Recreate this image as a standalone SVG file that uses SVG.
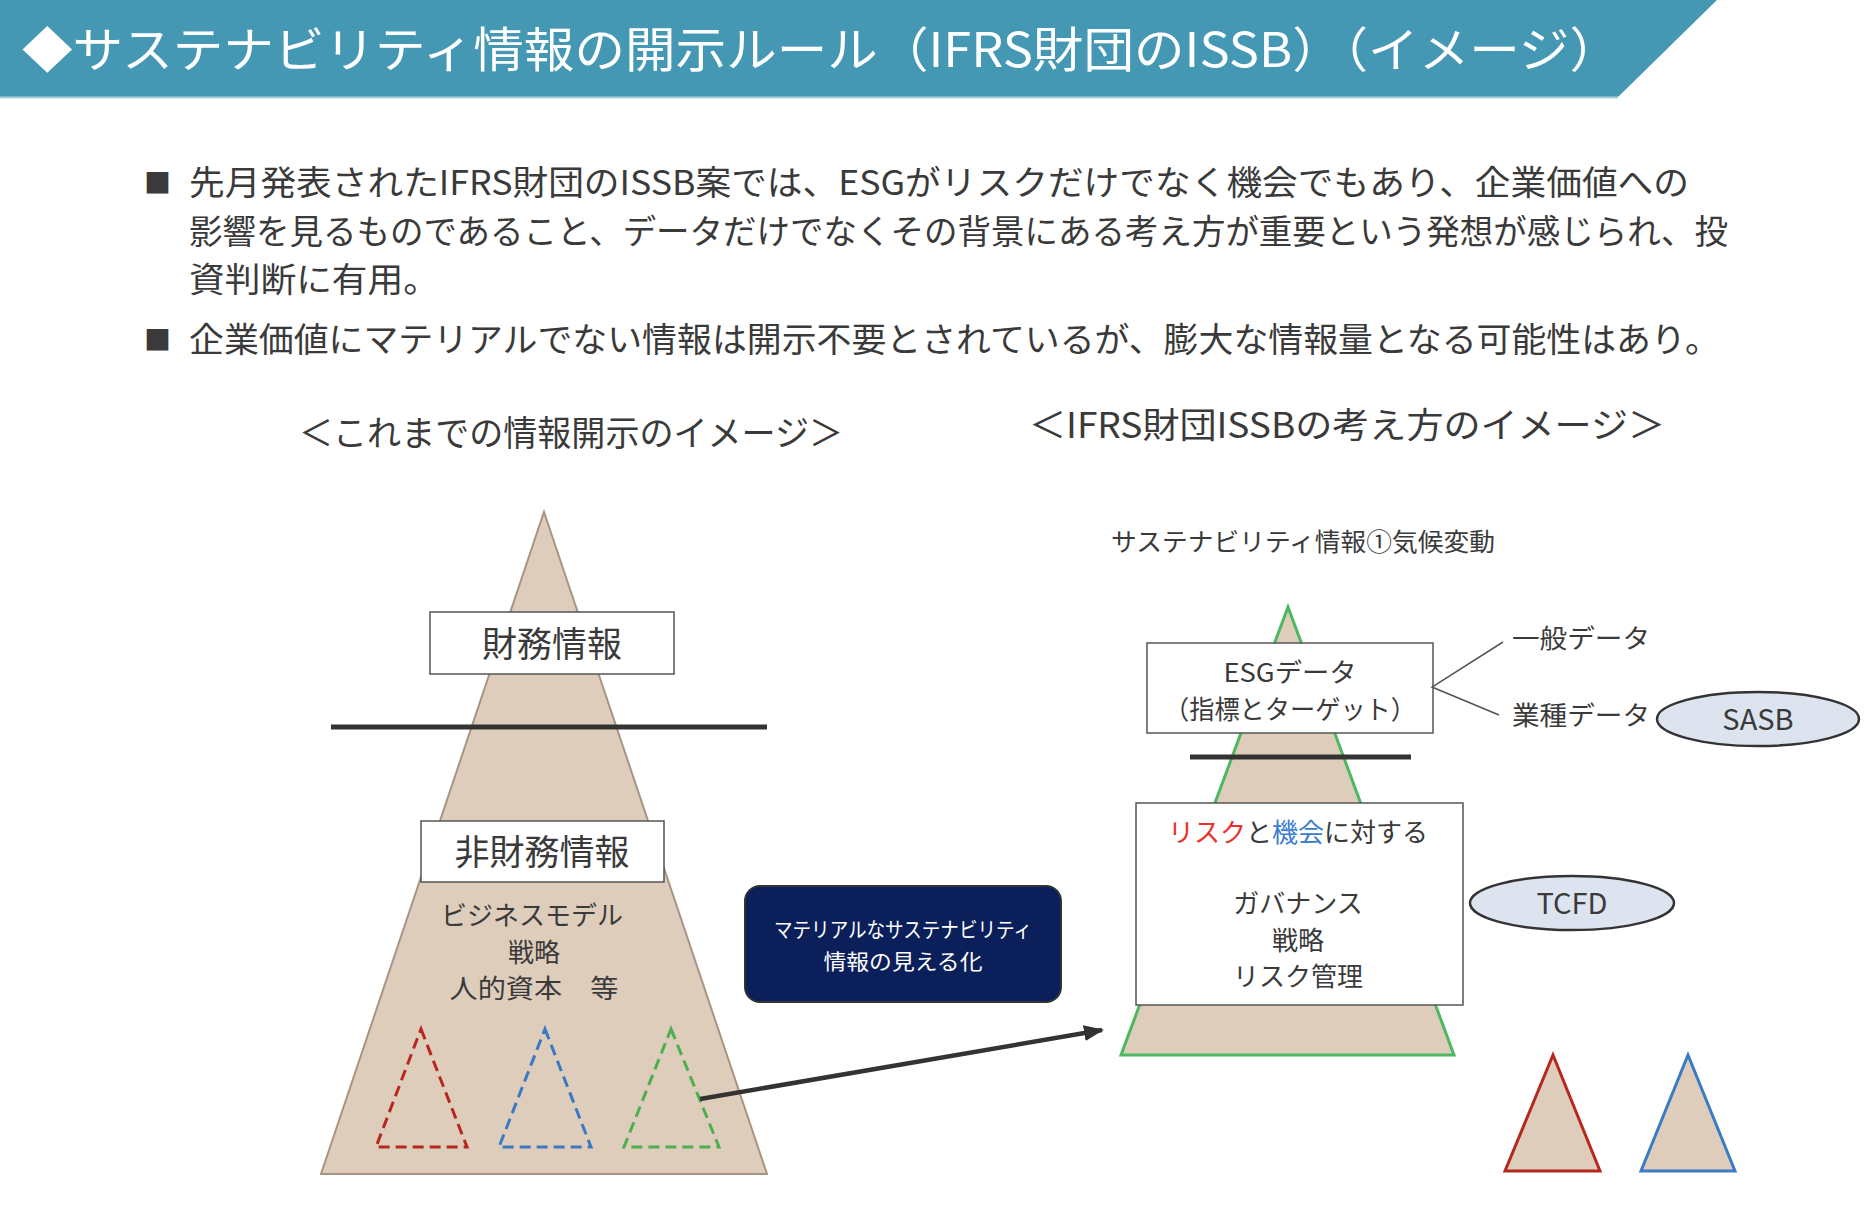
<svg xmlns="http://www.w3.org/2000/svg" width="1876" height="1222" viewBox="0 0 1876 1222">
<style>
text{font-family:"Noto Sans CJK JP","Noto Sans",sans-serif;fill:#3a3a3a}
.title{fill:#fff;font-size:48px}
.body{font-size:34px}
.head{font-size:35px}
.lbl{font-size:35px}
.mid{font-size:26px}
.sm{font-size:25px}
.pyr{fill:#dfcdbc}
.box{fill:#fff;stroke:#555;stroke-width:1.5}
.bar{stroke:#333;stroke-width:5}
.dash{fill:none;stroke-width:3;stroke-dasharray:11 6}
.ell{fill:#dde4ef;stroke:#333;stroke-width:2.5}
</style>
<defs>
<marker id="ah" markerUnits="userSpaceOnUse" markerWidth="20" markerHeight="16" refX="18" refY="8" orient="auto">
<path d="M0,0 L20,8 L0,16 Z" fill="#333"/>
</marker>
</defs>
<rect width="1876" height="1222" fill="#fff"/>
<g id="header">
<polygon points="0,0 1717,0 1618,97 0,97" fill="#4598b4"/>
<line x1="0" y1="97.5" x2="1618" y2="97.5" stroke="#a9d0dc" stroke-width="2"/>
<text class="title" x="22" y="67" textLength="1598" lengthAdjust="spacingAndGlyphs">◆サステナビリティ情報の開示ルール（IFRS財団のISSB）（イメージ）</text>
</g>
<g id="bullets">
<text x="144" y="193" font-size="27">■</text>
<text class="body" x="189" y="195" textLength="1500" lengthAdjust="spacingAndGlyphs">先月発表されたIFRS財団のISSB案では、ESGがリスクだけでなく機会でもあり、企業価値への</text>
<text class="body" x="189" y="244" textLength="1539" lengthAdjust="spacingAndGlyphs">影響を見るものであること、データだけでなくその背景にある考え方が重要という発想が感じられ、投</text>
<text class="body" x="189" y="292" textLength="250" lengthAdjust="spacingAndGlyphs">資判断に有用。</text>
<text x="144" y="350" font-size="27">■</text>
<text class="body" x="189" y="352" textLength="1531" lengthAdjust="spacingAndGlyphs">企業価値にマテリアルでない情報は開示不要とされているが、膨大な情報量となる可能性はあり。</text>
</g>
<g id="headings">
<text class="head" x="299" y="446" textLength="544" lengthAdjust="spacingAndGlyphs">＜これまでの情報開示のイメージ＞</text>
<text class="head" x="1029" y="438" textLength="636" lengthAdjust="spacingAndGlyphs">＜IFRS財団ISSBの考え方のイメージ＞</text>
</g>
<g id="left-pyramid">
<polygon class="pyr" points="544,512 767,1174 321,1174" stroke="#a89482" stroke-width="2"/>
<line class="bar" x1="331" y1="727" x2="767" y2="727"/>
</g>
<g id="financial">
<rect class="box" x="430" y="612" width="244" height="62"/>
<text class="lbl" x="552" y="657" text-anchor="middle">財務情報</text>
</g>
<g id="nonfinancial">
<rect class="box" x="421" y="821" width="243" height="61"/>
<text class="lbl" x="542" y="865" text-anchor="middle">非財務情報</text>
<text class="mid" x="532" y="925" text-anchor="middle">ビジネスモデル</text>
<text class="mid" x="534" y="962" text-anchor="middle">戦略</text>
<text class="mid" x="534" y="998" text-anchor="middle" textLength="169" lengthAdjust="spacingAndGlyphs">人的資本　等</text>
</g>
<g id="dashed-triangles">
<polygon class="dash" stroke="#b8271f" points="421,1029 467,1147 376,1147"/>
<polygon class="dash" stroke="#3a78c4" points="545,1029 591,1147 499,1147"/>
<polygon class="dash" stroke="#4cb050" points="671,1029 719,1147 624,1147"/>
</g>
<g id="material-box">
<rect x="745" y="886" width="316" height="116" rx="15" fill="#0b1f5a" stroke="#333" stroke-width="2"/>
<text x="903" y="937" text-anchor="middle" font-size="21" style="fill:#fff" textLength="258" lengthAdjust="spacingAndGlyphs">マテリアルなサステナビリティ</text>
<text x="903" y="969" text-anchor="middle" font-size="21" style="fill:#fff" textLength="159" lengthAdjust="spacingAndGlyphs">情報の見える化</text>
</g>
<g id="right-title">
<text class="sm" x="1111" y="551" textLength="384" lengthAdjust="spacingAndGlyphs">サステナビリティ情報①気候変動</text>
</g>
<g id="right-pyramid">
<polygon class="pyr" points="1288,607 1454,1055 1121,1055" stroke="#4cb860" stroke-width="3"/>
<line class="bar" x1="1190" y1="757" x2="1411" y2="757"/>
</g>
<g id="esg">
<rect class="box" x="1147" y="643" width="286" height="90"/>
<text x="1290" y="682" text-anchor="middle" font-size="26" textLength="133" lengthAdjust="spacingAndGlyphs">ESGデータ</text>
<text x="1290" y="719" text-anchor="middle" font-size="26" textLength="252" lengthAdjust="spacingAndGlyphs">（指標とターゲット）</text>
</g>
<g id="general-data">
<text class="mid" x="1512" y="648" textLength="138" lengthAdjust="spacingAndGlyphs">一般データ</text>
</g>
<g id="industry-data">
<text class="mid" x="1512" y="725" textLength="138" lengthAdjust="spacingAndGlyphs">業種データ</text>
</g>
<g id="sasb">
<ellipse class="ell" cx="1758" cy="719" rx="101" ry="27"/>
<text x="1758" y="730" text-anchor="middle" font-size="29">SASB</text>
</g>
<g id="risk-opportunity">
<rect class="box" x="1136" y="803" width="327" height="202"/>
<text class="mid" x="1298" y="842" text-anchor="middle" font-size="27"><tspan style="fill:#e8302e">リスク</tspan>と<tspan style="fill:#3b7bd0">機会</tspan>に対する</text>
<text class="mid" x="1298" y="913" text-anchor="middle" font-size="27">ガバナンス</text>
<text class="mid" x="1298" y="950" text-anchor="middle" font-size="27">戦略</text>
<text class="mid" x="1298" y="986" text-anchor="middle" font-size="27">リスク管理</text>
</g>
<g id="tcfd">
<ellipse class="ell" cx="1572" cy="903" rx="102" ry="27"/>
<text x="1572" y="914" text-anchor="middle" font-size="29">TCFD</text>
</g>
<g id="small-triangles">
<polygon class="pyr" points="1553,1055 1600,1171 1505,1171" stroke="#b5281f" stroke-width="3"/>
<polygon class="pyr" points="1688,1055 1735,1171 1641,1171" stroke="#3a7cc4" stroke-width="3"/>
</g>
<g id="connectors">
<line x1="700" y1="1099" x2="1102" y2="1030" stroke="#333" stroke-width="4.5" marker-end="url(#ah)"/>
<polyline points="1503,642 1432,687 1499,715" fill="none" stroke="#555" stroke-width="1.5"/>
</g>
</svg>
